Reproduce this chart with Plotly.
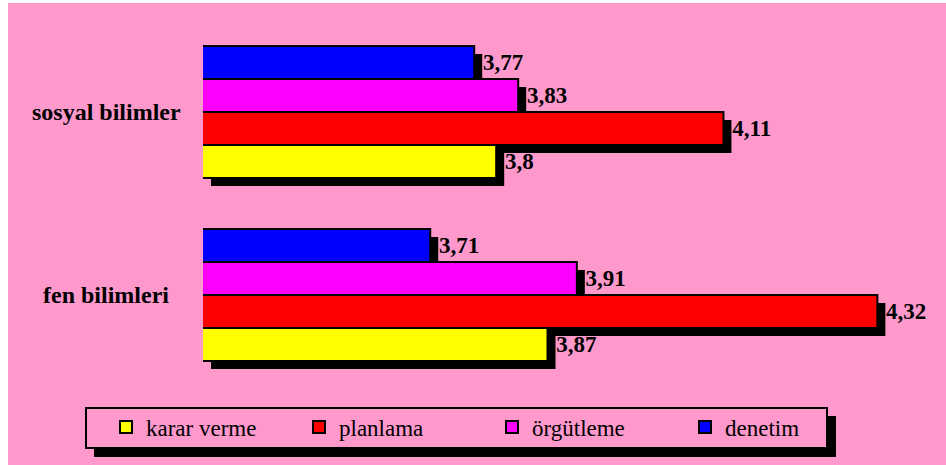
import plotly.graph_objects as go

# Kategoriler (aşağıdan yukarıya) ve boyut ortalamaları
categories = ["fen bilimleri", "sosyal bilimler"]
series_names = ["karar verme", "planlama", "örgütleme", "denetim"]
karar_verme = [3.87, 3.80]
planlama = [4.32, 4.11]
orgutleme = [3.91, 3.83]
denetim = [3.71, 3.77]
series_values = [karar_verme, planlama, orgutleme, denetim]
series_colors = ["#FFFF00", "#FF0000", "#FF00FF", "#0000FF"]

x_range = [3.4, 4.4]

W, H = 946, 465
PINK = "#FF99CC"
FONT = "Times New Roman, Liberation Serif, serif"
SHADOW = 8  # gölge kayması (piksel)


def fx(p):
    return p / W


def fy(p):
    return 1 - p / H


def tr_label(v):
    s = f"{v:.2f}".rstrip("0").rstrip(".")
    return s.replace(".", ",")


# Çizim alanı (piksel)
left, right, top, bottom = 203, 936, 20.5, 386.5

fig = go.Figure()

# Gölgeler: kaydırılmış eksen çiftinde siyah çubuklar
for name, vals in zip(series_names, series_values):
    fig.add_trace(go.Bar(
        y=categories, x=vals, orientation="h", name=name,
        marker=dict(color="black", line=dict(width=0)),
        showlegend=False, hoverinfo="skip",
        xaxis="x", yaxis="y",
    ))

# Renkli çubuklar ve değer etiketleri
for name, vals, col in zip(series_names, series_values, series_colors):
    fig.add_trace(go.Bar(
        y=categories, x=vals, orientation="h", name=name,
        marker=dict(color=col, line=dict(color="black", width=2)),
        text=["\u00a0" + tr_label(v) for v in vals],
        textposition="outside", constraintext="none", cliponaxis=False,
        outsidetextfont=dict(family=FONT, size=23, color="black", weight="bold"),
        xaxis="x2", yaxis="y2",
    ))

axis_common = dict(showgrid=False, zeroline=False, showticklabels=False,
                   showline=False, ticks="")

fig.update_layout(
    width=W, height=H,
    margin=dict(l=0, r=0, t=0, b=0),
    paper_bgcolor="white",
    plot_bgcolor="rgba(0,0,0,0)",
    font=dict(family=FONT, color="black"),
    barmode="group",
    bargap=0.28,
    bargroupgap=0,
    xaxis=dict(domain=[fx(left + SHADOW), fx(right + SHADOW)], range=x_range, **axis_common),
    yaxis=dict(domain=[fy(bottom + SHADOW), fy(top + SHADOW)], type="category",
               categoryorder="array", categoryarray=categories, **axis_common),
    xaxis2=dict(domain=[fx(left), fx(right)], range=x_range, anchor="y2", **axis_common),
    yaxis2=dict(domain=[fy(bottom), fy(top)], type="category", anchor="x2",
                categoryorder="array", categoryarray=categories, **axis_common),
    showlegend=True,
    legend=dict(
        orientation="h", traceorder="normal",
        x=fx(106), xanchor="left", y=fy(427), yanchor="middle",
        bgcolor="rgba(0,0,0,0)", borderwidth=0,
        font=dict(family=FONT, size=23, color="black"),
        entrywidth=148, entrywidthmode="pixels",
    ),
    shapes=[
        # zemin
        dict(type="rect", xref="paper", yref="paper", layer="below",
             x0=fx(8), x1=1, y0=0, y1=fy(3),
             fillcolor=PINK, line=dict(width=0)),
        # gösterge kutusu gölgesi ve kutusu
        dict(type="rect", xref="paper", yref="paper", layer="below",
             x0=fx(94), x1=fx(836), y0=fy(457), y1=fy(416),
             fillcolor="black", line=dict(width=0)),
        dict(type="rect", xref="paper", yref="paper", layer="below",
             x0=fx(86), x1=fx(827), y0=fy(448), y1=fy(408),
             fillcolor=PINK, line=dict(color="black", width=2)),
    ],
)

# Kategori adları
for cat in categories:
    fig.add_annotation(
        x=fx(106), xref="paper", y=cat, yref="y2",
        text=cat, showarrow=False, xanchor="center", yanchor="middle",
        font=dict(family=FONT, size=24, color="black", weight="bold"),
    )

fig.write_html("out.html")
